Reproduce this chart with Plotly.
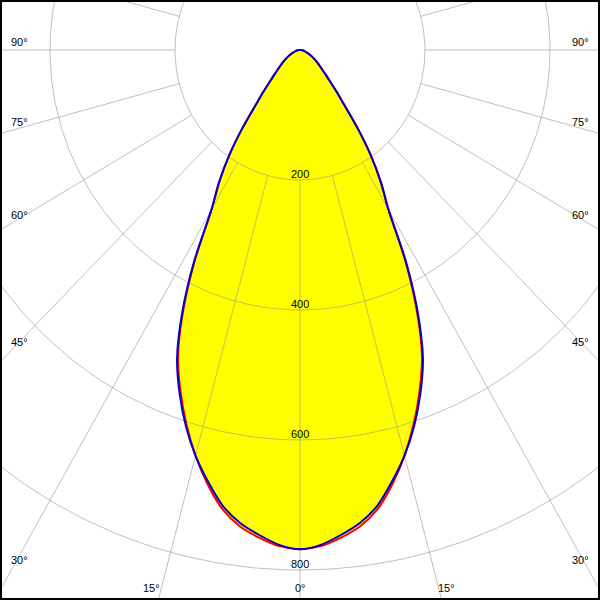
import math
import plotly.graph_objects as go

# ---- data (intensity values) ----
angles = [0, 2.5, 5, 7.5, 10, 12.5, 15, 17.5, 20, 22.5, 25, 27.5, 30, 32.5, 35,
          37.5, 40, 42.5, 45, 47.5, 50, 55, 60, 65, 70, 75, 80, 85, 90]
c0_c180 = [768, 764, 753, 739, 717, 684, 646, 604, 559, 510, 442, 364, 282, 240, 197,
           151, 110, 86, 67, 55, 46, 34, 25, 18, 12, 8, 5, 2, 0]
c90_c270 = [768, 762, 749, 734, 712, 680, 646, 607, 563, 514, 446, 367, 283, 241, 197,
            151, 110, 86, 67, 55, 46, 34, 25, 18, 12, 8, 5, 2, 0]
ring_values = [200, 400, 600, 800, 1000]
ring_labels = ["200", "400", "600", "800"]
ray_step = 15
left_angle_labels = ["90°", "75°", "60°", "45°", "30°"]
right_angle_labels = ["90°", "75°", "60°", "45°", "30°"]
bottom_angle_labels = ["15°", "0°", "15°"]

W, H = 600, 600
XR = [-480.0, 480.0]
YR = [-550 / 0.65, 50 / 0.65]


def curve_xy(ang, vals):
    xs, ys = [], []
    for a, v in zip(reversed(ang), reversed(vals)):
        t = math.radians(a)
        xs.append(-v * math.sin(t))
        ys.append(-v * math.cos(t))
    for a, v in zip(ang[1:], vals[1:]):
        t = math.radians(a)
        xs.append(v * math.sin(t))
        ys.append(-v * math.cos(t))
    return xs, ys


rx, ry = curve_xy(angles, c0_c180)
bx, by = curve_xy(angles, c90_c270)

# grid
gx, gy = [], []
for r in ring_values:
    for k in range(0, 361):
        t = math.radians(k)
        gx.append(r * math.sin(t))
        gy.append(-r * math.cos(t))
    gx.append(None)
    gy.append(None)
r0 = ring_values[0]
rmax = 1400
for k in range(0, 360, ray_step):
    t = math.radians(k)
    gx += [r0 * math.sin(t), rmax * math.sin(t), None]
    gy += [-r0 * math.cos(t), -rmax * math.cos(t), None]

fig = go.Figure()
fig.add_trace(go.Scatter(x=rx, y=ry, mode="lines", fill="toself", fillcolor="#ffff00",
                         line=dict(width=0, color="rgba(0,0,0,0)", shape="spline", smoothing=0.8),
                         hoverinfo="skip"))
fig.add_trace(go.Scatter(x=bx, y=by, mode="lines", fill="toself", fillcolor="#ffff00",
                         line=dict(width=0, color="rgba(0,0,0,0)", shape="spline", smoothing=0.8),
                         hoverinfo="skip"))
fig.add_trace(go.Scatter(x=gx, y=gy, mode="lines",
                         line=dict(width=1, color="rgba(150,150,150,0.6)"), hoverinfo="skip"))
fig.add_trace(go.Scatter(x=rx, y=ry, mode="lines",
                         line=dict(width=2, color="#ff0000", shape="spline", smoothing=0.8),
                         hoverinfo="skip"))
fig.add_trace(go.Scatter(x=bx, y=by, mode="lines",
                         line=dict(width=2, color="#0000cc", shape="spline", smoothing=0.8),
                         hoverinfo="skip"))

font = dict(family="Liberation Sans, Arial, sans-serif", size=11, color="#000000")
ann = []
for r, lab in zip(ring_values, ring_labels):
    ann.append(dict(x=0, y=-r, xref="x", yref="y", text=lab, showarrow=False,
                    xanchor="center", yanchor="middle", yshift=6, font=font))

left_y = [42, 122, 215, 342, 560]
for lab, py in zip(left_angle_labels, left_y):
    ann.append(dict(x=9 / W, y=1 - py / H, xref="paper", yref="paper", text=lab,
                    showarrow=False, xanchor="left", yanchor="middle", font=font))
for lab, py in zip(right_angle_labels, left_y):
    ann.append(dict(x=591 / W, y=1 - py / H, xref="paper", yref="paper", text=lab,
                    showarrow=False, xanchor="right", yanchor="middle", font=font))
bottom_x = [151, 300, 446]
for lab, px in zip(bottom_angle_labels, bottom_x):
    ann.append(dict(x=px / W, y=1 - 588 / H, xref="paper", yref="paper", text=lab,
                    showarrow=False, xanchor="center", yanchor="middle", font=font))

fig.update_layout(
    width=W, height=H, margin=dict(l=0, r=0, t=0, b=0),
    paper_bgcolor="white", plot_bgcolor="white", showlegend=False,
    xaxis=dict(range=XR, visible=False, fixedrange=True),
    yaxis=dict(range=YR, visible=False, fixedrange=True),
    annotations=ann,
    shapes=[dict(type="rect", xref="paper", yref="paper", x0=0, y0=0, x1=1, y1=1,
                 line=dict(color="black", width=4))],
)

fig.write_html("out.html", config={"displayModeBar": False},
               post_script="document.body.style.margin='0';")
